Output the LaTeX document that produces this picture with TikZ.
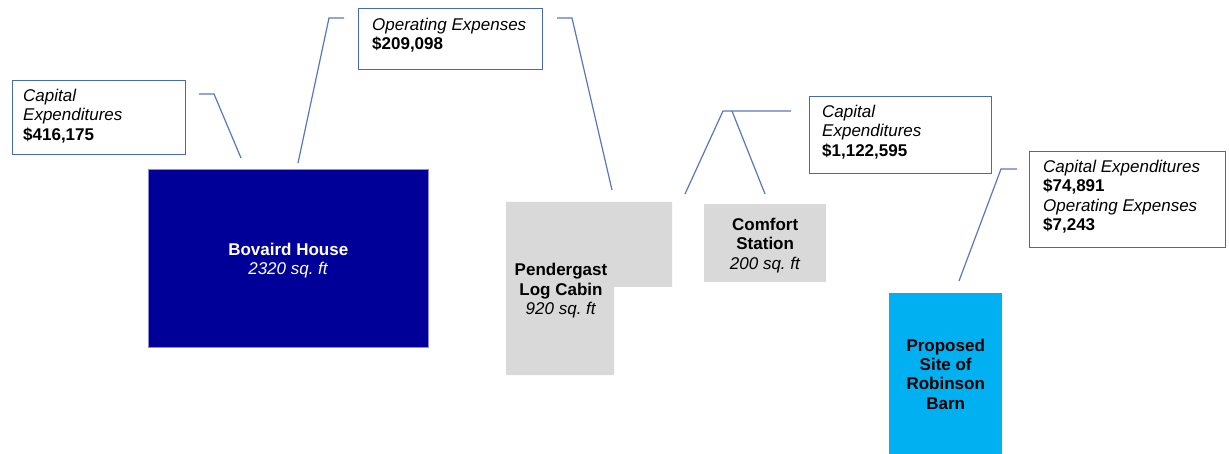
\documentclass[tikz,border=0pt]{standalone}
\usepackage{fontspec}
\setmainfont{Liberation Sans}
\frenchspacing
\definecolor{leader}{RGB}{88,120,186}
\definecolor{boxline}{RGB}{72,106,176}
\definecolor{bovaird}{RGB}{0,0,153}
\definecolor{bovedge}{RGB}{140,140,215}
\definecolor{robinson}{RGB}{0,176,240}
\definecolor{bldggray}{RGB}{217,217,217}
\newcommand{\toppad}{\rule{0pt}{16.5pt}}
\tikzset{
  txt/.style={font=\fontsize{17}{19.4}\selectfont, inner sep=0pt},
  callout/.style={draw=boxline, line width=1.2pt, fill=white, anchor=north west, inner sep=0pt},
  ctext/.style={txt, align=left, anchor=north west},
  leaderline/.style={draw=leader, line width=1.2pt},
  grayb/.style={fill=bldggray, draw=none},
}
\begin{document}
\begin{tikzpicture}[x=1pt,y=-1pt]
\useasboundingbox (0,0) rectangle (1229,454);
\fill[white] (0,0) rectangle (1229,454);

% buildings
\node[fill=bovaird, draw=bovedge, line width=0.6pt, minimum width=280pt, minimum height=178pt, anchor=north west, inner sep=0pt,
      txt, text=white, align=center] (bovaird) at (148,169) {\toppad\textbf{Bovaird House}\\\textit{2320 sq. ft}};

\path[grayb] (506,202) -- (672,202) -- (672,287) -- (614,287) -- (614,375) -- (506,375) -- cycle;
\node[txt, align=center] (pend) at (561,291) {\textbf{Pendergast}\\\textbf{Log Cabin}\\\textit{920 sq. ft}};

\node[grayb, minimum width=122pt, minimum height=78pt, anchor=north west, inner sep=0pt, txt, align=center] (comfort) at (704,204)
  {\toppad\textbf{Comfort}\\\textbf{Station}\\\textit{200 sq. ft}};

\node[fill=robinson, minimum width=113pt, minimum height=162pt, anchor=north west, inner sep=0pt, txt, align=center] (robinson) at (889,293)
  {\textbf{Proposed}\\\textbf{Site of}\\\textbf{Robinson}\\\textbf{Barn}};

% callout boxes
\node[callout, minimum width=173pt, minimum height=74pt] (cx1) at (12,80) {};
\node[ctext] (cx1t) at ([shift={(11,8.8)}]cx1.north west) {\textit{Capital}\\\textit{Expenditures}\\\textbf{\$416,175}};

\node[callout, minimum width=184pt, minimum height=61pt] (ox1) at (358,8) {};
\node[ctext] (ox1t) at ([shift={(14,9.8)}]ox1.north west) {\textit{Operating Expenses}\\\textbf{\$209,098}};

\node[callout, minimum width=182pt, minimum height=77pt] (cx2) at (809,96) {};
\node[ctext] (cx2t) at ([shift={(13,8.8)}]cx2.north west) {\textit{Capital}\\\textit{Expenditures}\\\textbf{\$1,122,595}};

\node[callout, minimum width=196pt, minimum height=96pt] (cx3) at (1029,151) {};
\node[ctext] (cx3t) at ([shift={(14,8.8)}]cx3.north west) {\textit{Capital Expenditures}\\\textbf{\$74,891}\\\textit{Operating Expenses}\\\textbf{\$7,243}};

% leader line points
\coordinate (a1) at (199,94);  \coordinate (a2) at (214,94);  \coordinate (a3) at (241,158);
\coordinate (b1) at (298,163); \coordinate (b2) at (329,18);  \coordinate (b3) at (344,18);
\coordinate (d1) at (557,18);  \coordinate (d2) at (572,18);  \coordinate (d3) at (612,190);
\coordinate (e1) at (685,194); \coordinate (e2) at (723,111); \coordinate (e3) at (791,111);
\coordinate (e4) at (732,111); \coordinate (e5) at (765,194);
\coordinate (f1) at (959,281); \coordinate (f2) at (1001,169); \coordinate (f3) at (1017,169);

\draw[leaderline] (a1) -- (a2) -- (a3);
\draw[leaderline] (b1) -- (b2) -- (b3);
\draw[leaderline] (d1) -- (d2) -- (d3);
\draw[leaderline] (e1) -- (e2) -- (e3);
\draw[leaderline] (e4) -- (e5);
\draw[leaderline] (f1) -- (f2) -- (f3);
\end{tikzpicture}
\end{document}
